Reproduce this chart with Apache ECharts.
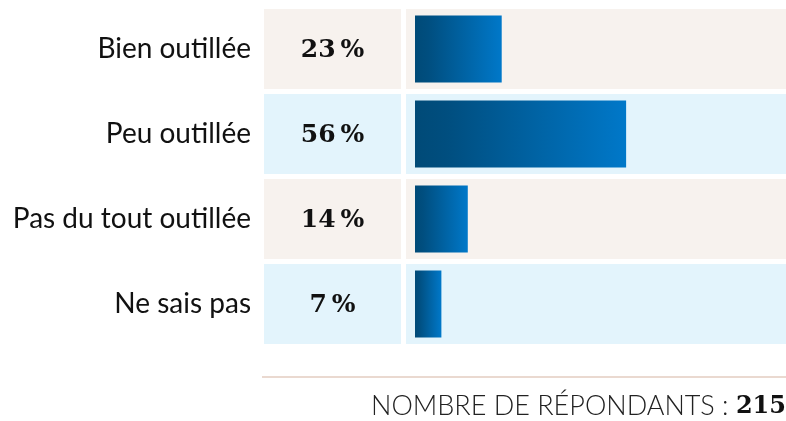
<!DOCTYPE html>
<html>
<head>
<meta charset="utf-8">
<script src="https://cdn.jsdelivr.net/npm/echarts@6/dist/echarts.min.js"></script>
<style>
  html, body { margin: 0; padding: 0; background: #fff; }
  #main { width: 786px; height: 421px; }
</style>
</head>
<body>
<div id="main"></div>
<script>
// données
var categories = ['Bien outillée', 'Peu outillée', 'Pas du tout outillée', 'Ne sais pas'];
var percents = [23, 56, 14, 7];
var rowColors = ['#f7f2ee', '#e3f4fc', '#f7f2ee', '#e3f4fc'];
var respondents = 215;

var pxPerPct = 3.77;
var barLeft = 415, panelLeft = 406, chartRight = 786;
var xMin = -(barLeft - panelLeft) / pxPerPct;
var xMax = xMin + (chartRight - panelLeft) / pxPerPct;

var rowIdx = categories.map(function (c, i) { return i; });

var chart = echarts.init(document.getElementById('main'));

function rowBg(params, api) {
  var cs = params.coordSys;
  var c = api.coord([0, api.value(0)]);
  var h = 80;
  return {
    type: 'rect',
    shape: { x: cs.x, y: c[1] - h / 2, width: cs.width, height: h },
    style: { fill: rowColors[api.value(0)] }
  };
}

chart.setOption({
  animation: false,
  grid: [
    { left: 264, width: 137, top: 6.5, height: 340 },
    { left: panelLeft, right: 0, top: 6.5, height: 340 }
  ],
  xAxis: [
    { gridIndex: 0, type: 'value', min: 0, max: 1, show: false },
    { gridIndex: 1, type: 'value', min: xMin, max: xMax, show: false }
  ],
  yAxis: [
    {
      gridIndex: 0, type: 'category', data: categories, inverse: true,
      axisLine: { show: false }, axisTick: { show: false },
      axisLabel: {
        margin: 13, fontFamily: 'Lato', fontSize: 28, color: '#111'
      }
    },
    {
      gridIndex: 1, type: 'category', data: categories, inverse: true, show: false
    }
  ],
  series: [
    {
      type: 'custom', xAxisIndex: 0, yAxisIndex: 0,
      data: rowIdx, renderItem: rowBg, z: 1
    },
    {
      type: 'custom', xAxisIndex: 0, yAxisIndex: 0,
      data: rowIdx,
      renderItem: function (params, api) {
        var c = api.coord([0.5, api.value(0)]);
        return {
          type: 'text',
          style: {
            x: c[0], y: c[1] + 1,
            text: percents[api.value(0)] + '\u2009%',
            fill: '#111',
            font: 'bold 25px "DejaVu Serif"',
            align: 'center', verticalAlign: 'middle'
          }
        };
      },
      z: 3
    },
    {
      type: 'custom', xAxisIndex: 1, yAxisIndex: 1,
      data: rowIdx, renderItem: rowBg, z: 1
    },
    {
      type: 'bar', xAxisIndex: 1, yAxisIndex: 1,
      data: percents, barWidth: 67, z: 2,
      itemStyle: {
        color: new echarts.graphic.LinearGradient(0, 0, 1, 0, [
          { offset: 0, color: '#004a77' },
          { offset: 0.15, color: '#004e7f' },
          { offset: 1, color: '#0078c9' }
        ])
      }
    }
  ],
  title: {
    right: 0, top: 393, padding: 0,
    text: '{a|NOMBRE DE RÉPONDANTS : }{b|' + respondents + '}',
    textStyle: {
      rich: {
        a: { fontFamily: 'Lato', fontWeight: 300, fontSize: 27, color: '#222' },
        b: { fontFamily: 'DejaVu Serif', fontWeight: 'bold', fontSize: 24, color: '#111' }
      }
    }
  },
  graphic: [
    {
      type: 'rect',
      shape: { x: 262, y: 376, width: 524, height: 2 },
      style: { fill: '#ead9d0' }
    }
  ]
});
</script>
</body>
</html>
